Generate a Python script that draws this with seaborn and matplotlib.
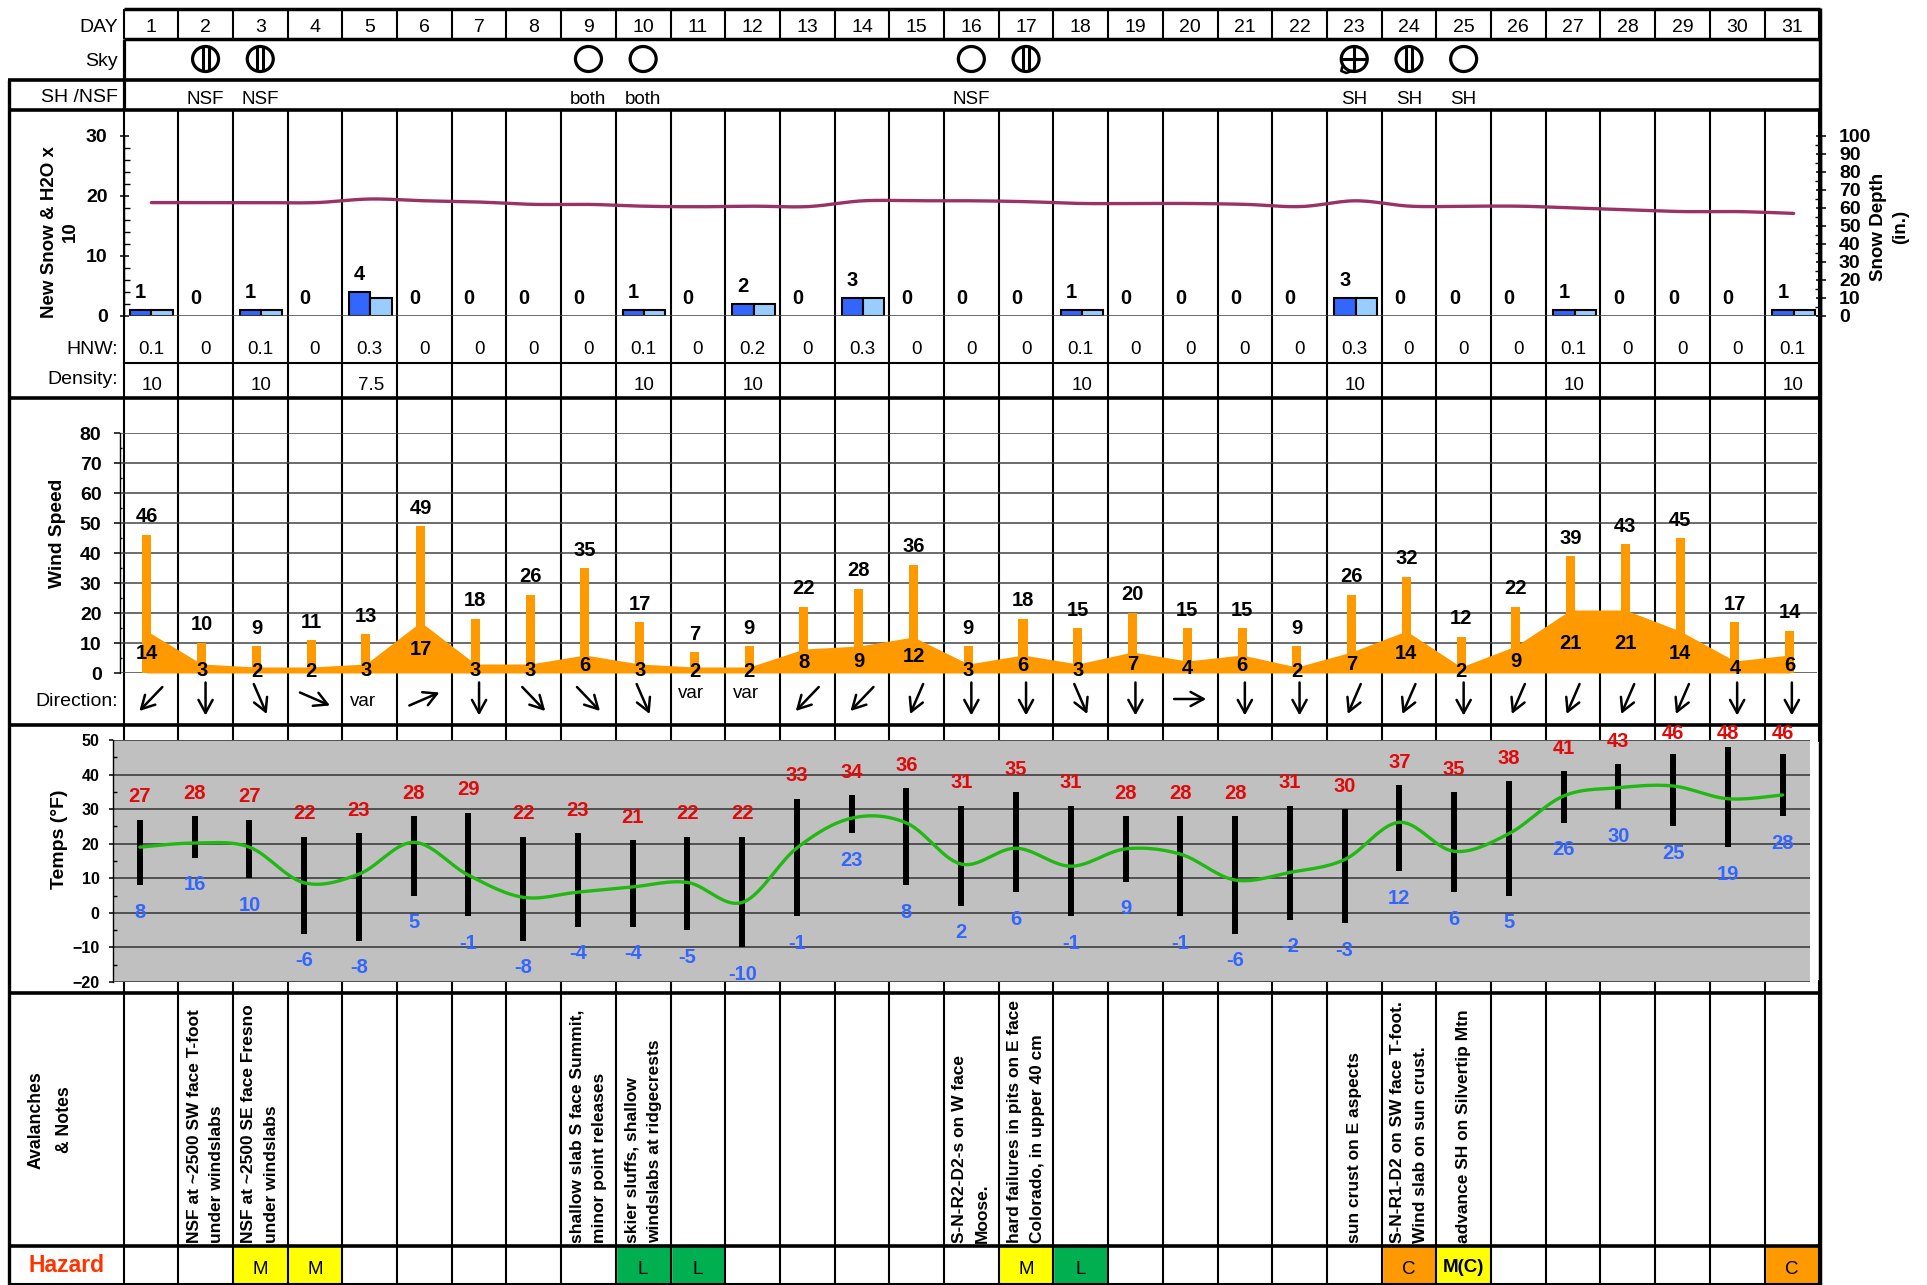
"""Monthly avalanche / weather summary sheet, one column per day."""
import matplotlib
matplotlib.use("Agg")
import matplotlib.pyplot as plt
import numpy as np
import pandas as pd
import seaborn as sns
from matplotlib.patches import Ellipse
from matplotlib.ticker import MultipleLocator

sns.set_theme(style="white")
plt.rcParams["font.family"] = ["Liberation Sans", "DejaVu Sans"]

DAYS = list(range(1, 32))

SKY_DAYS = [2, 3, 9, 10, 16, 17, 23, 24, 25]
SKY_KIND = ["obscured", "obscured", "clear", "clear", "clear", "obscured", "cross", "obscured", "clear"]
PROBLEM_DAYS = [2, 3, 9, 10, 16, 23, 24, 25]
PROBLEM_TEXT = ["NSF", "NSF", "both", "both", "NSF", "SH", "SH", "SH"]

NEW_SNOW = [1, 0, 1, 0, 4, 0, 0, 0, 0, 1, 0, 2, 0, 3, 0, 0, 0, 1, 0, 0, 0, 0, 3, 0, 0, 0, 1, 0, 0, 0, 1]
HNW = [0.1, 0, 0.1, 0, 0.3, 0, 0, 0, 0, 0.1, 0, 0.2, 0, 0.3, 0, 0, 0, 0.1, 0, 0, 0, 0, 0.3, 0, 0, 0, 0.1, 0, 0, 0, 0.1]
H2O_X10 = [1, 0, 1, 0, 3, 0, 0, 0, 0, 1, 0, 2, 0, 3, 0, 0, 0, 1, 0, 0, 0, 0, 3, 0, 0, 0, 1, 0, 0, 0, 1]
DENSITY = ["10", "", "10", "", "7.5", "", "", "", "", "10", "", "10", "", "", "", "", "", "10", "", "", "", "",
           "10", "", "", "", "10", "", "", "", "10"]
SNOW_DEPTH = [63, 63, 63, 63, 65, 64, 63.3, 62, 62, 61, 60.7, 61, 60.8, 64, 64, 64, 63.5, 62.5, 62.5, 62.5, 62,
              60.8, 64, 61, 61, 61, 60, 59, 58, 58, 57]

WIND_GUST = [46, 10, 9, 11, 13, 49, 18, 26, 35, 17, 7, 9, 22, 28, 36, 9, 18, 15, 20, 15, 15, 9, 26, 32, 12, 22,
             39, 43, 45, 17, 14]
WIND_AVG = [14, 3, 2, 2, 3, 17, 3, 3, 6, 3, 2, 2, 8, 9, 12, 3, 6, 3, 7, 4, 6, 2, 7, 14, 2, 9, 21, 21, 14, 4, 6]
WIND_DIR = ["SW", "S", "SSE", "ESE", "var", "ENE", "S", "SE", "SE", "SSE", "var", "var", "SW", "SW", "SSW", "S",
            "S", "SSE", "S", "E", "S", "S", "SSW", "SSW", "S", "SSW", "SSW", "SSW", "SSW", "S", "S"]

TEMP_HI = [27, 28, 27, 22, 23, 28, 29, 22, 23, 21, 22, 22, 33, 34, 36, 31, 35, 31, 28, 28, 28, 31, 30, 37, 35, 38,
           41, 43, 46, 48, 46]
TEMP_LO = [8, 16, 10, -6, -8, 5, -1, -8, -4, -4, -5, -10, -1, 23, 8, 2, 6, -1, 9, -1, -6, -2, -3, 12, 6, 5, 26,
           30, 25, 19, 28]
TEMP_MEAN = [19, 20.2, 19, 8.7, 11.2, 20.4, 10.9, 4.5, 6, 7.5, 8.8, 3, 18.8, 27.4, 26, 14.1, 18.7, 13.5, 18.5, 17,
             9.5, 11.7, 15.4, 26.2, 17.8, 22.9, 33.8, 36.2, 36.7, 33, 34.1]

NOTE_DAYS = [2, 3, 9, 10, 16, 17, 23, 24, 25]
NOTE_TEXT = [
    "NSF at ~2500 SW face T-foot\nunder windslabs",
    "NSF at ~2500 SE face Fresno\nunder windslabs",
    "shallow slab S face Summit,\nminor point releases",
    "skier sluffs, shallow\nwindslabs at ridgecrests",
    "S-N-R2-D2-s on W face\nMoose.",
    "hard failures in pits on E face\nColorado, in upper 40 cm",
    "sun crust on E aspects",
    "S-N-R1-D2 on SW face T-foot.\nWind slab on sun crust.",
    "advance SH on Silvertip Mtn",
]
HAZARD_DAYS = [3, 4, 10, 11, 17, 18, 24, 25, 31]
HAZARD_TEXT = ["M", "M", "L", "L", "M", "L", "C", "M(C)", "C"]
HAZARD_COLORS = {"M": "#FFFF00", "M(C)": "#FFFF00", "L": "#00B050", "C": "#FF9900"}

ARROWS = {"S": (0, 33), "SSW": (-13, 30), "SW": (-23, 24), "SSE": (13, 30), "SE": (23, 24),
          "ESE": (30, 13), "E": (32, 0), "ENE": (30, -13)}

ORANGE = "#FF9900"
W, H = 1927, 1285
COL0, COLW = 123.5, 54.7
PT = 0.72  # points per pixel at dpi 100


def cx(day):
    return COL0 + COLW * (day - 0.5)


def panel(left, top, right, bottom):
    ax = fig.add_axes([left / W, 1 - bottom / H, (right - left) / W, (bottom - top) / H])
    ax.patch.set_alpha(0)
    return ax


def smooth(xs, ys, n=14):
    # catmull-rom through the daily values, like the spreadsheet's smoothed line
    p = np.column_stack([xs, ys]).astype(float)
    p = np.vstack([p[0], p, p[-1]])
    out = []
    for i in range(1, len(p) - 2):
        for t in np.linspace(0, 1, n, endpoint=False):
            out.append(0.5 * (2 * p[i] + (p[i + 1] - p[i - 1]) * t
                              + (2 * p[i - 1] - 5 * p[i] + 4 * p[i + 1] - p[i + 2]) * t ** 2
                              + (3 * p[i] - p[i - 1] - 3 * p[i + 1] + p[i + 2]) * t ** 3))
    out.append(p[-1])
    out = np.array(out)
    return out[:, 0], out[:, 1]


def style_y(ax, major, minor, labelsize, major_len, minor_len, direction, pad, side="left"):
    ax.yaxis.set_major_locator(MultipleLocator(major))
    ax.yaxis.set_minor_locator(MultipleLocator(minor))
    ax.tick_params(axis="y", which="major", direction=direction, length=major_len * PT, width=1.1,
                   color="black", labelsize=labelsize, pad=pad * PT, labelcolor="black",
                   left=side == "left", right=side == "right", labelleft=side == "left",
                   labelright=side == "right")
    ax.tick_params(axis="y", which="minor", direction="in", length=minor_len * PT, width=1.0, color="black",
                   left=side == "left", right=side == "right")
    for lab in ax.get_yticklabels():
        lab.set_fontweight("bold")
    ax.set_xticks([])
    ax.set_xlabel("")
    ax.set_ylabel("")
    ax.set_xlim(0.5, 31.5)
    for s in ax.spines.values():
        s.set_visible(False)
    ax.spines[side].set_visible(True)
    ax.spines[side].set_color("black")
    ax.spines[side].set_linewidth(1.0)


fig = plt.figure(figsize=(W / 100, H / 100), dpi=100, facecolor="white")

# ---- sheet: ruled lines and table text, in pixel coordinates
base = fig.add_axes([0, 0, 1, 1])
base.set_xlim(0, W)
base.set_ylim(H, 0)
base.axis("off")

edges = [COL0 + COLW * k for k in range(32)]
for top, bottom in [(9, 39), (110, 398), (398, 725), (725, 742), (980, 993), (993, 1284)]:
    base.vlines(edges, top, bottom, color="black", lw=1.5, zorder=2)
base.vlines(COL0, 39, 110, color="black", lw=2.3, zorder=3)
base.vlines(9, 80, 1285, color="black", lw=2.4, zorder=3)
base.vlines(1820, 8, 1285, color="black", lw=2.5, zorder=3)
base.hlines([9, 39], COL0, 1820, color="black", lw=2.5, zorder=3)
base.hlines([80, 110, 398, 725, 993, 1246], 8, 1821, color="black", lw=2.6, zorder=3)
base.hlines(363, COL0, 1820, color="black", lw=1.5, zorder=3)
base.hlines(1284, 8, 1820, color="black", lw=1.5, zorder=3)

row_labels = [("DAY", 27), ("Sky", 62), ("SH /NSF", 97), ("HNW:", 349), ("Density:", 379), ("Direction:", 702)]
for text, y in row_labels:
    base.text(118, y, text, ha="right", va="center", fontsize=14, color="black")

for d in DAYS:
    base.text(cx(d), 27, str(d), ha="center", va="center", fontsize=14, color="black")
    base.text(cx(d), 349, f"{HNW[d - 1]:g}", ha="center", va="center", fontsize=13.5, color="black")
    base.text(cx(d) + 1, 385, DENSITY[d - 1], ha="center", va="center", fontsize=13.5, color="black")

for d, kind in zip(SKY_DAYS, SKY_KIND):
    x0, y0 = cx(d), 59
    base.add_patch(Ellipse((x0, y0), 26, 25, fill=False, ec="black", lw=2.3, zorder=4))
    if kind == "obscured":
        base.vlines([x0 - 3, x0 + 3], y0 - 12, y0 + 12, color="black", lw=2.2, zorder=4)
    elif kind == "cross":
        base.vlines(x0, y0 - 12, y0 + 12, color="black", lw=2.2, zorder=4)
        base.hlines(y0, x0 - 13, x0 + 13, color="black", lw=2.2, zorder=4)
        base.plot([x0 - 12, x0 - 13, x0 - 8, x0 - 2], [y0 + 8, y0 + 12, y0 + 14, y0 + 12], color="black", lw=1.8)

for d, text in zip(PROBLEM_DAYS, PROBLEM_TEXT):
    base.text(cx(d), 99, text, ha="center", va="center", fontsize=13.5, color="black")

for d, code in zip(DAYS, WIND_DIR):
    if code == "var":
        y = 702 if d == 5 else 694
        base.text(cx(d) - 7, y, "var", ha="center", va="center", fontsize=13.5, color="black")
    else:
        dx, dy = ARROWS[code]
        base.annotate("", xy=(cx(d) + dx / 2, 699 + dy / 2), xytext=(cx(d) - dx / 2, 699 - dy / 2),
                      arrowprops=dict(arrowstyle="->,head_length=0.55,head_width=0.3", mutation_scale=17,
                                      color="black", lw=1.8, shrinkA=0, shrinkB=0))

for d, text in zip(NOTE_DAYS, NOTE_TEXT):
    base.text(cx(d), 1243, text, rotation=90, ha="center", va="bottom", ma="left",
              fontsize=12.5, fontweight="bold", linespacing=1.65, color="black")

for d, code in zip(HAZARD_DAYS, HAZARD_TEXT):
    base.bar(cx(d), 38, bottom=1246, width=COLW, color=HAZARD_COLORS[code], zorder=1)
    base.text(cx(d), 1270 if code != "M(C)" else 1268, code, ha="center", va="center", fontsize=13.5,
              color="black", fontweight="bold" if code == "M(C)" else "normal")

base.text(67, 1266, "Hazard", ha="center", va="center", fontsize=16.5, fontweight="bold", color="#FF3300")
base.text(50, 1120, "Avalanches\n& Notes", rotation=90, ha="center", va="center", fontsize=12.7,
          fontweight="bold", linespacing=1.85, color="black")
base.text(60, 232, "New Snow & H2O x\n10", rotation=90, ha="center", va="center", fontsize=13.5,
          fontweight="bold", linespacing=1.35, color="black")
base.text(58, 533, "Wind Speed", rotation=90, ha="center", va="center", fontsize=13.8, fontweight="bold", color="black")
base.text(59, 839, "Temps (°F)", rotation=90, ha="center", va="center", fontsize=14, fontweight="bold", color="black")
base.text(1890, 227, "Snow Depth\n(in.)", rotation=90, ha="center", va="center", fontsize=13.5,
          fontweight="bold", linespacing=1.4, color="black")

# ---- new snow bars and snow depth line
ax_snow = panel(124, 136, 1821, 316)
snow = pd.DataFrame({
    "day": DAYS * 2,
    "value": NEW_SNOW + H2O_X10,
    "series": ["new"] * 31 + ["h2o"] * 31,
})
sns.barplot(data=snow, x="day", y="value", hue="series", native_scale=True, width=0.78, gap=0,
            palette={"new": "#3366FF", "h2o": "#99CCFF"}, saturation=1, edgecolor="black", linewidth=1.5,
            errorbar=None, legend=False, ax=ax_snow)
for p in ax_snow.patches:
    if p.get_height() == 0:
        p.set_visible(False)
ax_snow.set_ylim(0, 30)
style_y(ax_snow, 10, 2, 14, 9, 6, "inout", 12)
ax_snow.axhline(0, color="#444444", lw=1.1, zorder=1)
for d, v in zip(DAYS, NEW_SNOW):
    ax_snow.annotate(str(v), (d - 0.195, v), xytext=(0, 18 * PT), textcoords="offset points",
                     ha="center", va="center", fontsize=14.5, fontweight="bold", color="black")

ax_depth = ax_snow.twinx()
ax_depth.patch.set_alpha(0)
depth_x, depth_y = smooth(DAYS, SNOW_DEPTH)
sns.lineplot(x=depth_x, y=depth_y, color="#993366", lw=2.4, estimator=None, sort=False, ax=ax_depth)
ax_depth.set_ylim(0, 100)
style_y(ax_depth, 10, 5, 14, 10, 6, "inout", 13, side="right")

# ---- wind: gust spikes over the average area
ax_wind = panel(119.5, 433, 1817, 673)
ax_wind.fill_between(DAYS, WIND_AVG, color=ORANGE, lw=0, zorder=2)
sns.barplot(x=DAYS, y=WIND_GUST, native_scale=True, width=0.165, color=ORANGE, saturation=1,
            errorbar=None, linewidth=0, zorder=2, ax=ax_wind)
ax_wind.set_ylim(0, 80)
style_y(ax_wind, 10, 5, 14, 6, 2, "out", 12)
ax_wind.grid(axis="y", which="major", color="#444444", lw=1.1)
ax_wind.set_axisbelow(True)
for d, g, a in zip(DAYS, WIND_GUST, WIND_AVG):
    ax_wind.annotate(str(g), (d, g), xytext=(0, 18 * PT), textcoords="offset points", ha="center", va="center",
                     fontsize=14.5, fontweight="bold", color="black", zorder=5)
    ax_wind.text(d, a / 2 - 0.6, str(a), ha="center", va="center", fontsize=14.5, fontweight="bold",
                 color="black", zorder=5)

# ---- temperatures: high-low sticks and smoothed mean
ax_temp = panel(112.5, 740, 1810, 982)
ax_temp.patch.set_alpha(1)
ax_temp.set_facecolor("#C0C0C0")
sticks = pd.DataFrame({"day": DAYS * 2, "temp": TEMP_HI + TEMP_LO})
sns.lineplot(data=sticks, x="day", y="temp", units="day", estimator=None, color="black", lw=4.3,
             solid_capstyle="butt", zorder=3, ax=ax_temp)
mean_x, mean_y = smooth(DAYS, TEMP_MEAN)
sns.lineplot(x=mean_x, y=mean_y, color="#22B814", lw=2.4, estimator=None, sort=False, zorder=4, ax=ax_temp)
ax_temp.set_ylim(-20, 50)
style_y(ax_temp, 10, 5, 11.5, 4, 4, "out", 9)
ax_temp.grid(axis="y", which="major", color="#333333", lw=1.1)
ax_temp.set_axisbelow(True)
for d, hi, lo in zip(DAYS, TEMP_HI, TEMP_LO):
    ax_temp.text(d, min(hi + 6.6, 52), str(hi), ha="center", va="center", fontsize=14.5, fontweight="bold",
                 color="#E00A0A", zorder=5)
    ax_temp.text(d, lo - 7.8, str(lo), ha="center", va="center", fontsize=14.5, fontweight="bold",
                 color="#3366FF", zorder=5)

fig.savefig("out.png", dpi=100, facecolor="white")
